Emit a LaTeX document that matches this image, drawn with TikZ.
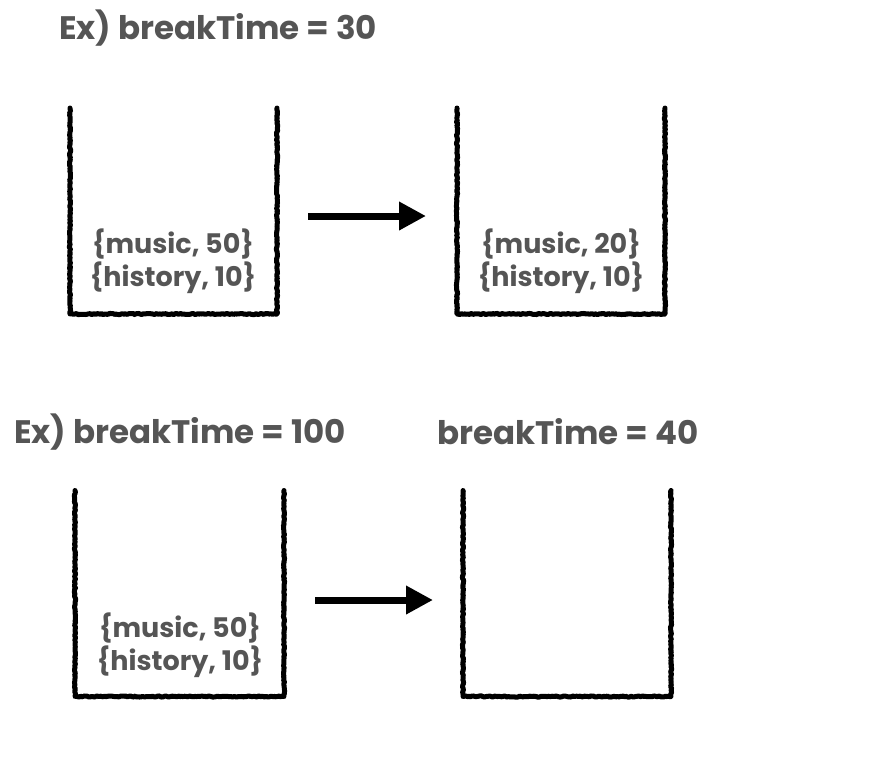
\documentclass[tikz,border=0pt]{standalone}
\usepackage{fontspec}
\setmainfont{Poppins}
\usetikzlibrary{arrows.meta,decorations.pathmorphing}
\definecolor{txt}{HTML}{555555}
\begin{document}
\begin{tikzpicture}[x=1pt,y=-1pt,
  cup/.style={draw=black,line width=5pt,line join=round,line cap=round,
    decorate,decoration={random steps,segment length=1.5pt,amplitude=0.6pt}},
  box/.style={minimum width=#1,minimum height=206pt,inner sep=0pt,outer sep=0pt},
  title/.style={text=txt,font=\bfseries\fontsize{32.5}{36}\selectfont,inner sep=0pt},
  item/.style={text=txt,font=\bfseries\fontsize{27}{33}\selectfont,align=center,inner sep=0pt},
  flow/.style={line width=7pt,-{Triangle[length=27pt,width=27pt]}}]
\useasboundingbox[fill=white] (0,0) rectangle (882,764);
% titles
\node[title] (t1) at (218,28) {Ex) breakTime = 30};
\node[title] (t2) at (180,432) {Ex) breakTime = 100};
\node[title] (t3) at (568,432) {breakTime = 40};
% containers
\node[box=207pt] (b1) at (173.5,211) {};
\node[box=208pt] (b2) at (561,211) {};
\node[box=209pt] (b3) at (179.5,593.5) {};
\node[box=208pt] (b4) at (567,593.5) {};
\foreach \b in {b1,b2,b3,b4}
  \draw[cup] (\b.north west) -- (\b.south west) -- (\b.south east) -- (\b.north east);
% contents
\node[item] (c1) at (173,261.5) {\{music, 50\}\\\{history, 10\}};
\node[item] (c2) at (561,261.5) {\{music, 20\}\\\{history, 10\}};
\node[item] (c3) at (180,645) {\{music, 50\}\\\{history, 10\}};
% arrows
\coordinate (a1s) at (308,216);
\coordinate (a1e) at (426,216);
\coordinate (a2s) at (315,600);
\coordinate (a2e) at (433,600);
\draw[flow] (a1s) -- (a1e);
\draw[flow] (a2s) -- (a2e);
\end{tikzpicture}
\end{document}
